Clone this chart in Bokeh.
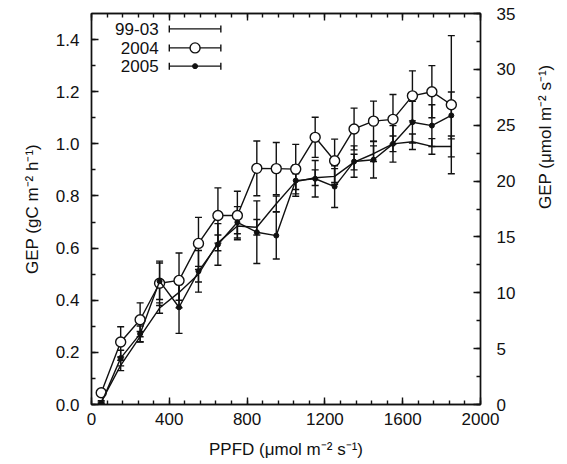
import math
from bokeh.plotting import figure
from bokeh.models import (ColumnDataSource, Whisker, TeeHead, LinearAxis, Range1d,
                          SingleIntervalTicker, PrintfTickFormatter)
from bokeh.core.properties import value
from bokeh.embed import file_html
from bokeh.resources import INLINE

# ---------------- data ----------------
ppfd = [50, 150, 250, 350, 450, 550, 650, 750, 850, 950, 1050, 1150, 1250, 1350, 1450, 1550, 1650, 1750, 1850]

gep_9903 = [0.01, 0.15, 0.26, 0.37, 0.43, 0.50, 0.62, 0.685, 0.68, 0.77, 0.855, 0.87, 0.875, 0.93, 0.962, 1.0, 1.008, 0.99, 0.99]
err_9903 = [0.005, 0.02, 0.02, 0.02, 0.03, 0.03, 0.03, 0.03, 0.03, 0.03, 0.03, 0.03, 0.03, 0.03, 0.03, 0.03, 0.03, 0.03, 0.04]

gep_2004 = [0.045, 0.24, 0.325, 0.465, 0.476, 0.618, 0.725, 0.725, 0.906, 0.905, 0.903, 1.025, 0.935, 1.057, 1.087, 1.094, 1.184, 1.200, 1.150]
err_2004 = [0.01, 0.058, 0.065, 0.085, 0.105, 0.10, 0.106, 0.093, 0.105, 0.10, 0.095, 0.077, 0.083, 0.08, 0.077, 0.095, 0.096, 0.10, 0.265]

gep_2005 = [0.005, 0.178, 0.271, 0.473, 0.373, 0.511, 0.614, 0.699, 0.661, 0.648, 0.859, 0.866, 0.836, 0.932, 0.939, 1.0, 1.083, 1.07, 1.109]
err_2005 = [0.005, 0.03, 0.03, 0.07, 0.10, 0.08, 0.08, 0.06, 0.12, 0.09, 0.06, 0.07, 0.08, 0.06, 0.07, 0.07, 0.08, 0.08, 0.09]

series_labels = ["99-03", "2004", "2005"]

x_ticks_interval = 400
left_tick_interval = 0.2
right_tick_interval = 5

# ---------------- layout / style ----------------
FONT = "Liberation Sans"
TICK_FS = "17px"
LABEL_FS = "17px"
LW = 1.4
C = "#111111"

p = figure(width=567, height=464, output_backend="svg", toolbar_location=None,
           x_range=Range1d(0, 2000), y_range=Range1d(0, 1.5),
           min_border_left=91, min_border_right=82, min_border_top=13, min_border_bottom=60)
p.grid.visible = False
p.outline_line_color = C
p.outline_line_width = LW
p.background_fill_color = "white"
p.border_fill_color = "white"

p.extra_y_ranges = {"right": Range1d(0, 35)}


def style_axis(ax):
    ax.axis_line_color = C
    ax.axis_line_width = LW
    ax.major_tick_line_color = C
    ax.minor_tick_line_color = C
    ax.major_tick_line_width = LW
    ax.minor_tick_line_width = LW
    ax.major_tick_in = 7
    ax.major_tick_out = 0
    ax.minor_tick_in = 4
    ax.minor_tick_out = 0
    ax.major_label_text_font = FONT
    ax.major_label_text_font_size = TICK_FS
    ax.major_label_text_color = C
    ax.axis_label_text_font = FONT
    ax.axis_label_text_font_size = LABEL_FS
    ax.axis_label_text_font_style = "normal"
    ax.axis_label_text_color = C


# bottom axis
xa = p.xaxis[0]
xa.ticker = SingleIntervalTicker(interval=x_ticks_interval, num_minor_ticks=5)
xa.formatter = PrintfTickFormatter(format="%d")
xa.axis_label = "PPFD (μmol m⁻² s⁻¹)"
style_axis(xa)
xa.major_label_standoff = 8
xa.axis_label_standoff = 12

# left axis
ya = p.yaxis[0]
ya.ticker = SingleIntervalTicker(interval=left_tick_interval, num_minor_ticks=2)
ya.formatter = PrintfTickFormatter(format="%.1f")
ya.axis_label = "GEP (gC m⁻² h⁻¹)"
style_axis(ya)
ya.major_label_standoff = 12
ya.axis_label_standoff = 11

# right axis
ra = LinearAxis(y_range_name="right",
                ticker=SingleIntervalTicker(interval=right_tick_interval, num_minor_ticks=2),
                formatter=PrintfTickFormatter(format="%d"),
                axis_label="GEP (μmol m⁻² s⁻¹)")
style_axis(ra)
ra.major_label_standoff = 16
ra.axis_label_standoff = 27
ra.axis_label_orientation = math.pi / 2
p.add_layout(ra, "right")

# top axis (ticks only)
ta = LinearAxis(ticker=SingleIntervalTicker(interval=x_ticks_interval, num_minor_ticks=5))
style_axis(ta)
ta.major_label_text_font_size = "1px"
ta.major_label_text_alpha = 0
ta.major_label_standoff = 0
p.add_layout(ta, "above")


def add_series(y, err, marker):
    src = ColumnDataSource(dict(x=ppfd, y=y,
                                lo=[a - b for a, b in zip(y, err)],
                                hi=[a + b for a, b in zip(y, err)]))
    w = Whisker(source=src, base="x", lower="lo", upper="hi", dimension="height",
                line_color=C, line_width=LW,
                lower_head=TeeHead(size=7, line_color=C, line_width=LW),
                upper_head=TeeHead(size=7, line_color=C, line_width=LW))
    p.add_layout(w)
    p.line("x", "y", source=src, line_color=C, line_width=LW)
    if marker == "open":
        p.scatter("x", "y", source=src, marker="circle", size=10,
                  line_color=C, line_width=LW, fill_color="white")
    elif marker == "dot":
        p.scatter("x", "y", source=src, marker="circle", size=5,
                  line_color=C, fill_color=C)


add_series(gep_9903, err_9903, None)
add_series(gep_2004, err_2004, "open")
add_series(gep_2005, err_2005, "dot")

# ---------------- legend (drawn manually: label, then errorbar sample) ----------------
leg_text_x = 345
leg_x0, leg_x1 = 400, 665
leg_y = [1.441, 1.368, 1.298]
lsrc = ColumnDataSource(dict(y=leg_y, x0=[leg_x0] * 3, x1=[leg_x1] * 3,
                             tx=[leg_text_x] * 3, label=series_labels))
p.add_layout(Whisker(source=lsrc, base="y", lower="x0", upper="x1", dimension="width",
                     line_color=C, line_width=LW,
                     lower_head=TeeHead(size=7, line_color=C, line_width=LW),
                     upper_head=TeeHead(size=7, line_color=C, line_width=LW)))
p.text("tx", "y", text="label", source=lsrc, text_align="right", text_baseline="middle",
       text_font=value(FONT), text_font_size=TICK_FS, text_color=C)
osrc = ColumnDataSource(dict(x=[(leg_x0 + leg_x1) / 2], y=[leg_y[1]]))
dsrc = ColumnDataSource(dict(x=[(leg_x0 + leg_x1) / 2], y=[leg_y[2]]))
p.scatter("x", "y", source=osrc, marker="circle", size=10, line_color=C, line_width=LW, fill_color="white")
p.scatter("x", "y", source=dsrc, marker="circle", size=5, line_color=C, fill_color=C)

open("out.html", "w").write(file_html(p, INLINE))
